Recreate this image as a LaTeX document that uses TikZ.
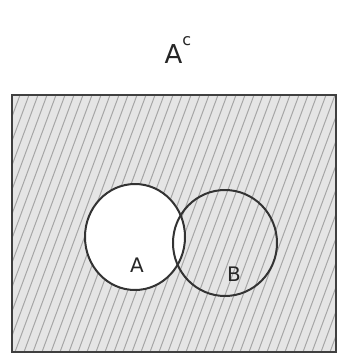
\documentclass[tikz,border=0pt]{standalone}
\usepackage{fontspec}
\setmainfont{DejaVu Sans}
\usetikzlibrary{shapes.geometric}
\begin{document}
\begin{tikzpicture}[x=1pt,y=-1pt,
  pen/.style={draw=black!80,line width=2pt},
  setshape/.style={pen,ellipse,inner sep=0pt},
  hatch/.style={draw=black!35,line width=1pt},
  lbl/.style={font=\fontsize{20}{22}\selectfont,text=black!85}]
\useasboundingbox (0,0) rectangle (351,360);
\fill[white] (0,0) rectangle (351,360);
% shaded complement of A
\begin{scope}[even odd rule]
  \clip (12,95) rectangle (336,352) (135,237) ellipse [x radius=50, y radius=53];
  \fill[black!10] (12,95) rectangle (336,352);
  \foreach \i in {-120,-111,...,360} {
    \draw[hatch] (\i,352) -- (\i+95,95);
  }
\end{scope}
\node[draw=black!75,line width=1.5pt,minimum width=324pt,minimum height=257pt,inner sep=0pt] (U) at (174,223.5) {};
\node[setshape,minimum width=100pt,minimum height=106pt] (A) at (135,237) {};
\node[setshape,minimum width=104pt,minimum height=106pt] (B) at (225,243) {};
\node[lbl] (la) at (137,265) {A};
\node[lbl] (lb) at (234,274) {B};
\node[font=\fontsize{26}{28}\selectfont,text=black!85] (t) at (178,50) {A\raisebox{0.7em}{\fontsize{16}{18}\selectfont c}};
\end{tikzpicture}
\end{document}
